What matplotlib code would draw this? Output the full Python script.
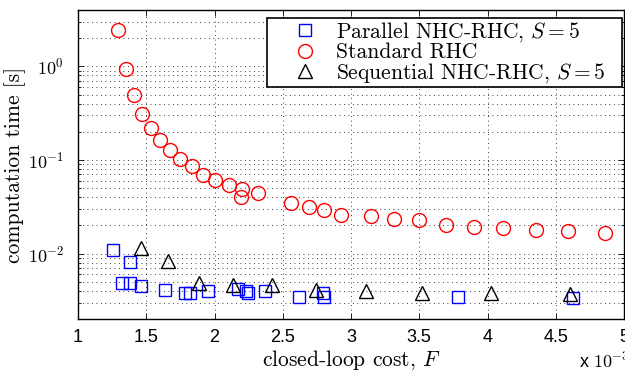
import matplotlib
matplotlib.use("Agg")
from matplotlib import pyplot as plt
from matplotlib.patches import Rectangle
from matplotlib.ticker import FixedLocator, FixedFormatter, LogLocator, NullLocator, NullFormatter

plt.rcParams['font.family'] = ['Liberation Sans', 'DejaVu Sans']
plt.rcParams['mathtext.fontset'] = 'cm'

# closed-loop cost in units of 1e-3, computation time in seconds
std_cost = [1.294, 1.355, 1.411, 1.469, 1.533, 1.604, 1.672, 1.750, 1.834, 1.915,
            2.005, 2.109, 2.202, 2.195, 2.321, 2.564, 2.693, 2.803, 2.925, 3.148,
            3.314, 3.496, 3.696, 3.898, 4.117, 4.353, 4.591, 4.859]
std_time = [2.46, 0.946, 0.50, 0.308, 0.219, 0.163, 0.128, 0.1016, 0.0863, 0.0698,
            0.0612, 0.0542, 0.0488, 0.0401, 0.0442, 0.0346, 0.0314, 0.0294, 0.0260, 0.0249,
            0.0235, 0.0226, 0.0204, 0.0192, 0.0188, 0.0180, 0.0173, 0.0166]

par_cost = [1.258, 1.380, 1.321, 1.380, 1.465, 1.640, 1.781, 1.822, 1.951, 2.173,
            2.234, 2.245, 2.370, 2.620, 2.798, 2.803, 3.781, 4.623]
par_time = [0.0110, 0.00816, 0.00480, 0.00488, 0.00449, 0.00404, 0.00375, 0.00375, 0.00397, 0.00414,
            0.00397, 0.00378, 0.00397, 0.00346, 0.00382, 0.00343, 0.00346, 0.00338]

seq_cost = [1.465, 1.659, 1.886, 2.134, 2.418, 2.742, 3.107, 3.520, 4.024, 4.604]
seq_time = [0.0115, 0.0083, 0.0049, 0.0046, 0.0046, 0.0041, 0.0040, 0.00375, 0.00375, 0.00366]

xticks = [1, 1.5, 2, 2.5, 3, 3.5, 4, 4.5, 5]
xticklabels = ['1', '1.5', '2', '2.5', '3', '3.5', '4', '4.5', '5']
yticks = [1e-2, 1e-1, 1e0]
yticklabels = [r'$\mathsf{10^{-2}}$', r'$\mathsf{10^{-1}}$', r'$\mathsf{10^{0}}$']

W, H = 625, 372
fig = plt.figure(figsize=(6.25, 3.72), dpi=100)
ax = fig.add_axes([78 / W, 53 / H, 546 / W, 309 / H])

ax.plot(par_cost, par_time, 's', ms=9, mfc='none', mec=(0, 0, 1), mew=1.0,
        label=r'Parallel NHC-RHC, $S=5$')
ax.plot(std_cost, std_time, 'o', ms=10, mfc='none', mec=(1, 0, 0), mew=1.0,
        label='Standard RHC')
ax.plot(seq_cost, seq_time, '^', ms=10, mfc='none', mec='k', mew=1.0,
        label=r'Sequential NHC-RHC, $S=5$')

ax.set_yscale('log')
ax.set_xlim(1, 5)
ax.set_ylim(2e-3, 4)

ax.xaxis.set_major_locator(FixedLocator(xticks))
ax.xaxis.set_major_formatter(FixedFormatter(xticklabels))
ax.xaxis.set_minor_locator(NullLocator())
ax.yaxis.set_major_locator(FixedLocator(yticks))
ax.yaxis.set_major_formatter(FixedFormatter(yticklabels))
ax.yaxis.set_minor_locator(LogLocator(base=10, subs=range(2, 10)))
ax.yaxis.set_minor_formatter(NullFormatter())

ax.tick_params(which='both', direction='in', top=True, right=True, labelsize=13, width=0.6)
ax.tick_params(which='major', length=4)
ax.tick_params(which='minor', length=2)
ax.tick_params(axis='x', which='major', pad=7)
ax.tick_params(axis='y', which='major', pad=10)
for s in ax.spines.values():
    s.set_linewidth(1.0)

dots = (0, (1, 4.4))
ax.grid(True, which='major', axis='both', ls=dots, color='k', lw=0.6)
ax.grid(True, which='minor', axis='y', ls=dots, color='k', lw=0.6)

ax.set_xlabel(r'closed-loop cost, $F$', family='cmr10', fontsize=15.5, labelpad=2)
ax.set_ylabel('computation time [s]', family='cmr10', fontsize=15.5, labelpad=1)

fig.text(579 / W, 1 / H, r'x $\mathsf{10^{-3}}$', fontsize=13, ha='left', va='bottom')

# legend box drawn separately so its padding matches the reference
box = Rectangle((267 / W, 1 - 87 / H), 355 / W, 69 / H, transform=fig.transFigure,
                facecolor='white', edgecolor='k', linewidth=1.2, zorder=4, clip_on=False)
ax.add_artist(box)
leg = ax.legend(loc='upper left', bbox_to_anchor=(280 / W, 1 - 17 / H),
                bbox_transform=fig.transFigure, borderaxespad=0,
                prop={'family': 'cmr10', 'size': 15.5}, frameon=False,
                handlelength=2.0, handletextpad=0.44,
                labelspacing=-0.05, borderpad=0.15)
leg.set_zorder(5)

fig.savefig('out.png', dpi=100)
